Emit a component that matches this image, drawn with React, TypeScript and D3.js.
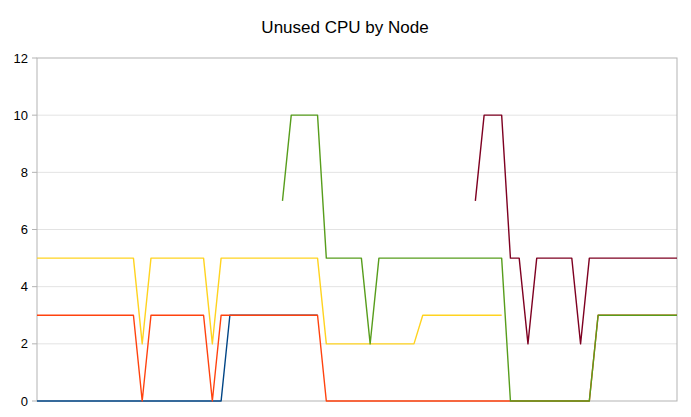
import * as d3 from "d3";

const W = 691;
const H = 417;
const margin = { top: 58, right: 14, bottom: 16, left: 37 };

const yTicks = [0, 2, 4, 6, 8, 10, 12];

// series values per sample (74 samples), null where a node reports nothing
const blueNode: (number | null)[] = [
  0, 0, 0, 0, 0, 0, 0, 0, 0, 0, 0, 0, 0, 0, 0, 0, 0, 0, 0, 0, 0, 0,
  3, 3, 3, 3, 3, 3, 3, 3, 3, 3, 3,
  null, null, null, null, null, null, null, null, null, null, null, null, null, null, null, null, null, null, null,
  null, null, null, null, null, null, null, null, null, null, null, null, null, null, null, null, null, null, null, null, null,
];
const redNode: (number | null)[] = [
  3, 3, 3, 3, 3, 3, 3, 3, 3, 3, 3, 3, 0, 3, 3, 3, 3, 3, 3, 3, 0,
  3, 3, 3, 3, 3, 3, 3, 3, 3, 3, 3, 3,
  0, 0, 0, 0, 0, 0, 0, 0, 0, 0, 0, 0, 0, 0, 0, 0, 0, 0, 0, 0, 0,
  0, 0, 0, 0, 0, 0, 0, 0, 0, 0,
  3, 3, 3, 3, 3, 3, 3, 3, 3, 3,
];
const yellowNode: (number | null)[] = [
  5, 5, 5, 5, 5, 5, 5, 5, 5, 5, 5, 5, 2, 5, 5, 5, 5, 5, 5, 5, 2,
  5, 5, 5, 5, 5, 5, 5, 5, 5, 5, 5, 5,
  2, 2, 2, 2, 2, 2, 2, 2, 2, 2, 2,
  3, 3, 3, 3, 3, 3, 3, 3, 3, 3,
  null, null, null, null, null, null, null, null, null, null,
  null, null, null, null, null, null, null, null, null, null,
];
const greenNode: (number | null)[] = [
  null, null, null, null, null, null, null, null, null, null,
  null, null, null, null, null, null, null, null, null, null,
  null, null, null, null, null, null, null, null,
  7, 10, 10, 10, 10,
  5, 5, 5, 5, 5, 2,
  5, 5, 5, 5, 5, 5, 5, 5, 5, 5, 5, 5, 5, 5, 5,
  0, 0, 0, 0, 0, 0, 0, 0, 0, 0,
  3, 3, 3, 3, 3, 3, 3, 3, 3, 3,
];
const maroonNode: (number | null)[] = [
  null, null, null, null, null, null, null, null, null, null,
  null, null, null, null, null, null, null, null, null, null,
  null, null, null, null, null, null, null, null, null, null,
  null, null, null, null, null, null, null, null, null, null,
  null, null, null, null, null, null, null, null, null, null,
  7, 10, 10, 10, 5, 5, 2, 5, 5, 5, 5, 5, 2,
  5, 5, 5, 5, 5, 5, 5, 5, 5, 5, 5,
];

const seriesList = [
  { name: "node1", values: blueNode, color: "#004586" },
  { name: "node2", values: redNode, color: "#ff420e" },
  { name: "node3", values: yellowNode, color: "#ffd320" },
  { name: "node4", values: greenNode, color: "#579d1c" },
  { name: "node5", values: maroonNode, color: "#7e0021" },
];

export default function App() {
  const innerW = W - margin.left - margin.right;
  const innerH = H - margin.top - margin.bottom;
  const n = redNode.length;

  const x = d3.scaleLinear().domain([0, n - 1]).range([0, innerW]);
  const y = d3.scaleLinear().domain([0, 12]).range([innerH, 0]);

  const line = d3
    .line<number | null>()
    .defined(d => d !== null)
    .x((_, i) => x(i))
    .y(d => y(d as number));

  const font = "'Liberation Sans', Arial, sans-serif";

  return (
    <svg
      width={W}
      height={H}
      style={{ position: "absolute", left: 0, top: 0, background: "#fff" }}
    >
      <text x={345} y={33} textAnchor="middle" fontFamily={font} fontSize={17} fill="#000">
        Unused CPU by Node
      </text>
      <g transform={`translate(${margin.left},${margin.top})`}>
        {yTicks.map(t => (
          <g key={t}>
            {t !== 0 && t !== 12 && (
              <line x1={0} x2={innerW} y1={y(t)} y2={y(t)} stroke="#e3e3e3" strokeWidth={1} />
            )}
            <line x1={-5} x2={0} y1={y(t)} y2={y(t)} stroke="#b3b3b3" strokeWidth={1} />
            <text
              x={-9}
              y={y(t)}
              dy="0.35em"
              textAnchor="end"
              fontFamily={font}
              fontSize={13}
              fill="#000"
            >
              {t}
            </text>
          </g>
        ))}
        <rect x={0} y={0} width={innerW} height={innerH} fill="none" stroke="#b3b3b3" strokeWidth={1} />
        {seriesList.map(s => (
          <path
            key={s.name}
            d={line(s.values) ?? ""}
            fill="none"
            stroke={s.color}
            strokeWidth={1.4}
            strokeLinejoin="round"
          />
        ))}
      </g>
    </svg>
  );
}
